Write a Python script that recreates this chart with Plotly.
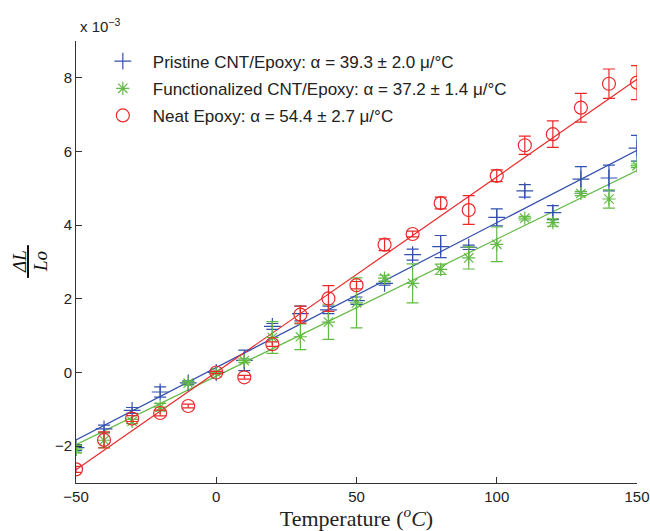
import plotly.graph_objects as go

temps = [-50, -40, -30, -20, -10, 0, 10, 20, 30, 40, 50, 60, 70, 80, 90, 100, 110, 120, 130, 140, 150]

pristine = [-2.04, -1.53, -1.03, -0.53, -0.28, 0.0, 0.33, 1.25, 1.60, 1.70, 1.95, 2.42, 3.20, 3.42, 3.40, 4.21, 4.93, 4.34, 5.25, 5.28, 6.09]
pristine_err = [0.08, 0.10, 0.08, 0.14, 0.05, 0.02, 0.28, 0.08, 0.20, 0.10, 0.10, 0.05, 0.15, 0.30, 0.06, 0.23, 0.17, 0.19, 0.34, 0.35, 0.35]

functional = [-2.08, -1.84, -1.33, -0.94, -0.29, 0.0, 0.32, 0.95, 0.97, 1.37, 1.89, 2.56, 2.42, 2.80, 3.11, 3.48, 4.19, 4.07, 4.86, 4.71, 5.61]
functional_err = [0.10, 0.20, 0.06, 0.10, 0.05, 0.02, 0.05, 0.43, 0.35, 0.47, 0.68, 0.08, 0.53, 0.14, 0.30, 0.47, 0.05, 0.10, 0.06, 0.25, 0.05]

neat = [-2.63, -1.83, -1.25, -1.10, -0.91, 0.0, -0.13, 0.77, 1.57, 2.01, 2.37, 3.47, 3.76, 4.60, 4.41, 5.34, 6.17, 6.47, 7.19, 7.84, 7.87]
neat_err = [0.08, 0.22, 0.08, 0.08, 0.05, 0.03, 0.05, 0.06, 0.23, 0.35, 0.10, 0.16, 0.08, 0.16, 0.39, 0.16, 0.25, 0.36, 0.39, 0.40, 0.46]

fit_x = [-50, 150]
fit_slope = [0.0393, 0.0372, 0.0530]
fit_intercept = [0.135, -0.10, 0.01]

names = [
    "Pristine CNT/Epoxy: α = 39.3 ± 2.0 μ/°C",
    "Functionalized CNT/Epoxy: α = 37.2 ± 1.4 μ/°C",
    "Neat Epoxy: α = 54.4 ± 2.7 μ/°C",
]
colors = ["#3350ad", "#63b946", "#ea2a2a"]
symbols = ["cross-thin-open", "asterisk-open", "circle-open"]
sizes = [12, 11, 13]
series = [pristine, functional, neat]
errs = [pristine_err, functional_err, neat_err]

fig = go.Figure()

for i in range(3):
    fy = [fit_slope[i] * x + fit_intercept[i] for x in fit_x]
    fig.add_trace(go.Scatter(x=fit_x, y=fy, mode="lines",
                             line=dict(color=colors[i], width=1.2),
                             showlegend=False, hoverinfo="skip"))

for i in range(3):
    fig.add_trace(go.Scatter(
        x=temps, y=series[i], mode="markers", name=names[i],
        legendgroup="g%d" % i,
        marker=dict(symbol=symbols[i], size=sizes[i], color=colors[i],
                    line=dict(color=colors[i], width=1.2)),
        error_y=dict(type="data", array=errs[i], visible=True,
                     color=colors[i], thickness=1.2, width=6),
    ))

fig.update_layout(
    width=650, height=531,
    margin=dict(l=76, r=13, t=41, b=48, autoexpand=False),
    paper_bgcolor="white", plot_bgcolor="white",
    font=dict(family="Liberation Sans, Arial, sans-serif", size=15, color="#222222"),
    showlegend=True,
    legend=dict(x=0.03, y=0.994, xanchor="left", yanchor="top",
                bgcolor="rgba(0,0,0,0)", borderwidth=0, itemwidth=50,
                font=dict(size=17, color="#222222"), tracegroupgap=2),
    xaxis=dict(range=[-50, 150], tickvals=[-50, 0, 50, 100, 150],
               automargin=False,
               ticks="inside", ticklen=6, tickcolor="#333333",
               showline=True, linecolor="#333333", linewidth=1,
               showgrid=False, zeroline=False, mirror=False,
               title=dict(text="Temperature (<sup><i>o</i></sup><i>C</i>)",
                          font=dict(family="Liberation Serif, Times New Roman, serif", size=22, color="#222222"),
                          standoff=2)),
    yaxis=dict(range=[-3, 9], tickvals=[-2, 0, 2, 4, 6, 8],
               automargin=False,
               ticks="inside", ticklen=6, tickcolor="#333333",
               showline=True, linecolor="#333333", linewidth=1,
               showgrid=False, zeroline=False, mirror=False),
)

fig.add_annotation(text="x 10<sup>−3</sup>", xref="paper", yref="paper",
                   x=0.0, y=1.0, xanchor="left", yanchor="bottom", yshift=4, xshift=2,
                   showarrow=False, font=dict(size=15, color="#222222"))

fig.add_annotation(text="<i>ΔL</i>", xref="paper", yref="paper",
                   x=0, y=0.5, xanchor="center", yanchor="middle",
                   xshift=-57, textangle=-90, showarrow=False,
                   font=dict(family="Liberation Serif, Times New Roman, serif", size=19, color="#111111"))
fig.add_annotation(text="<i>Lo</i>", xref="paper", yref="paper",
                   x=0, y=0.5, xanchor="center", yanchor="middle",
                   xshift=-36, textangle=-90, showarrow=False,
                   font=dict(family="Liberation Serif, Times New Roman, serif", size=19, color="#111111"))
fig.add_shape(type="line", xref="paper", yref="paper",
              x0=-0.0856, x1=-0.0856, y0=0.464, y1=0.538,
              line=dict(color="#111111", width=2))

fig.write_html("out.html")
